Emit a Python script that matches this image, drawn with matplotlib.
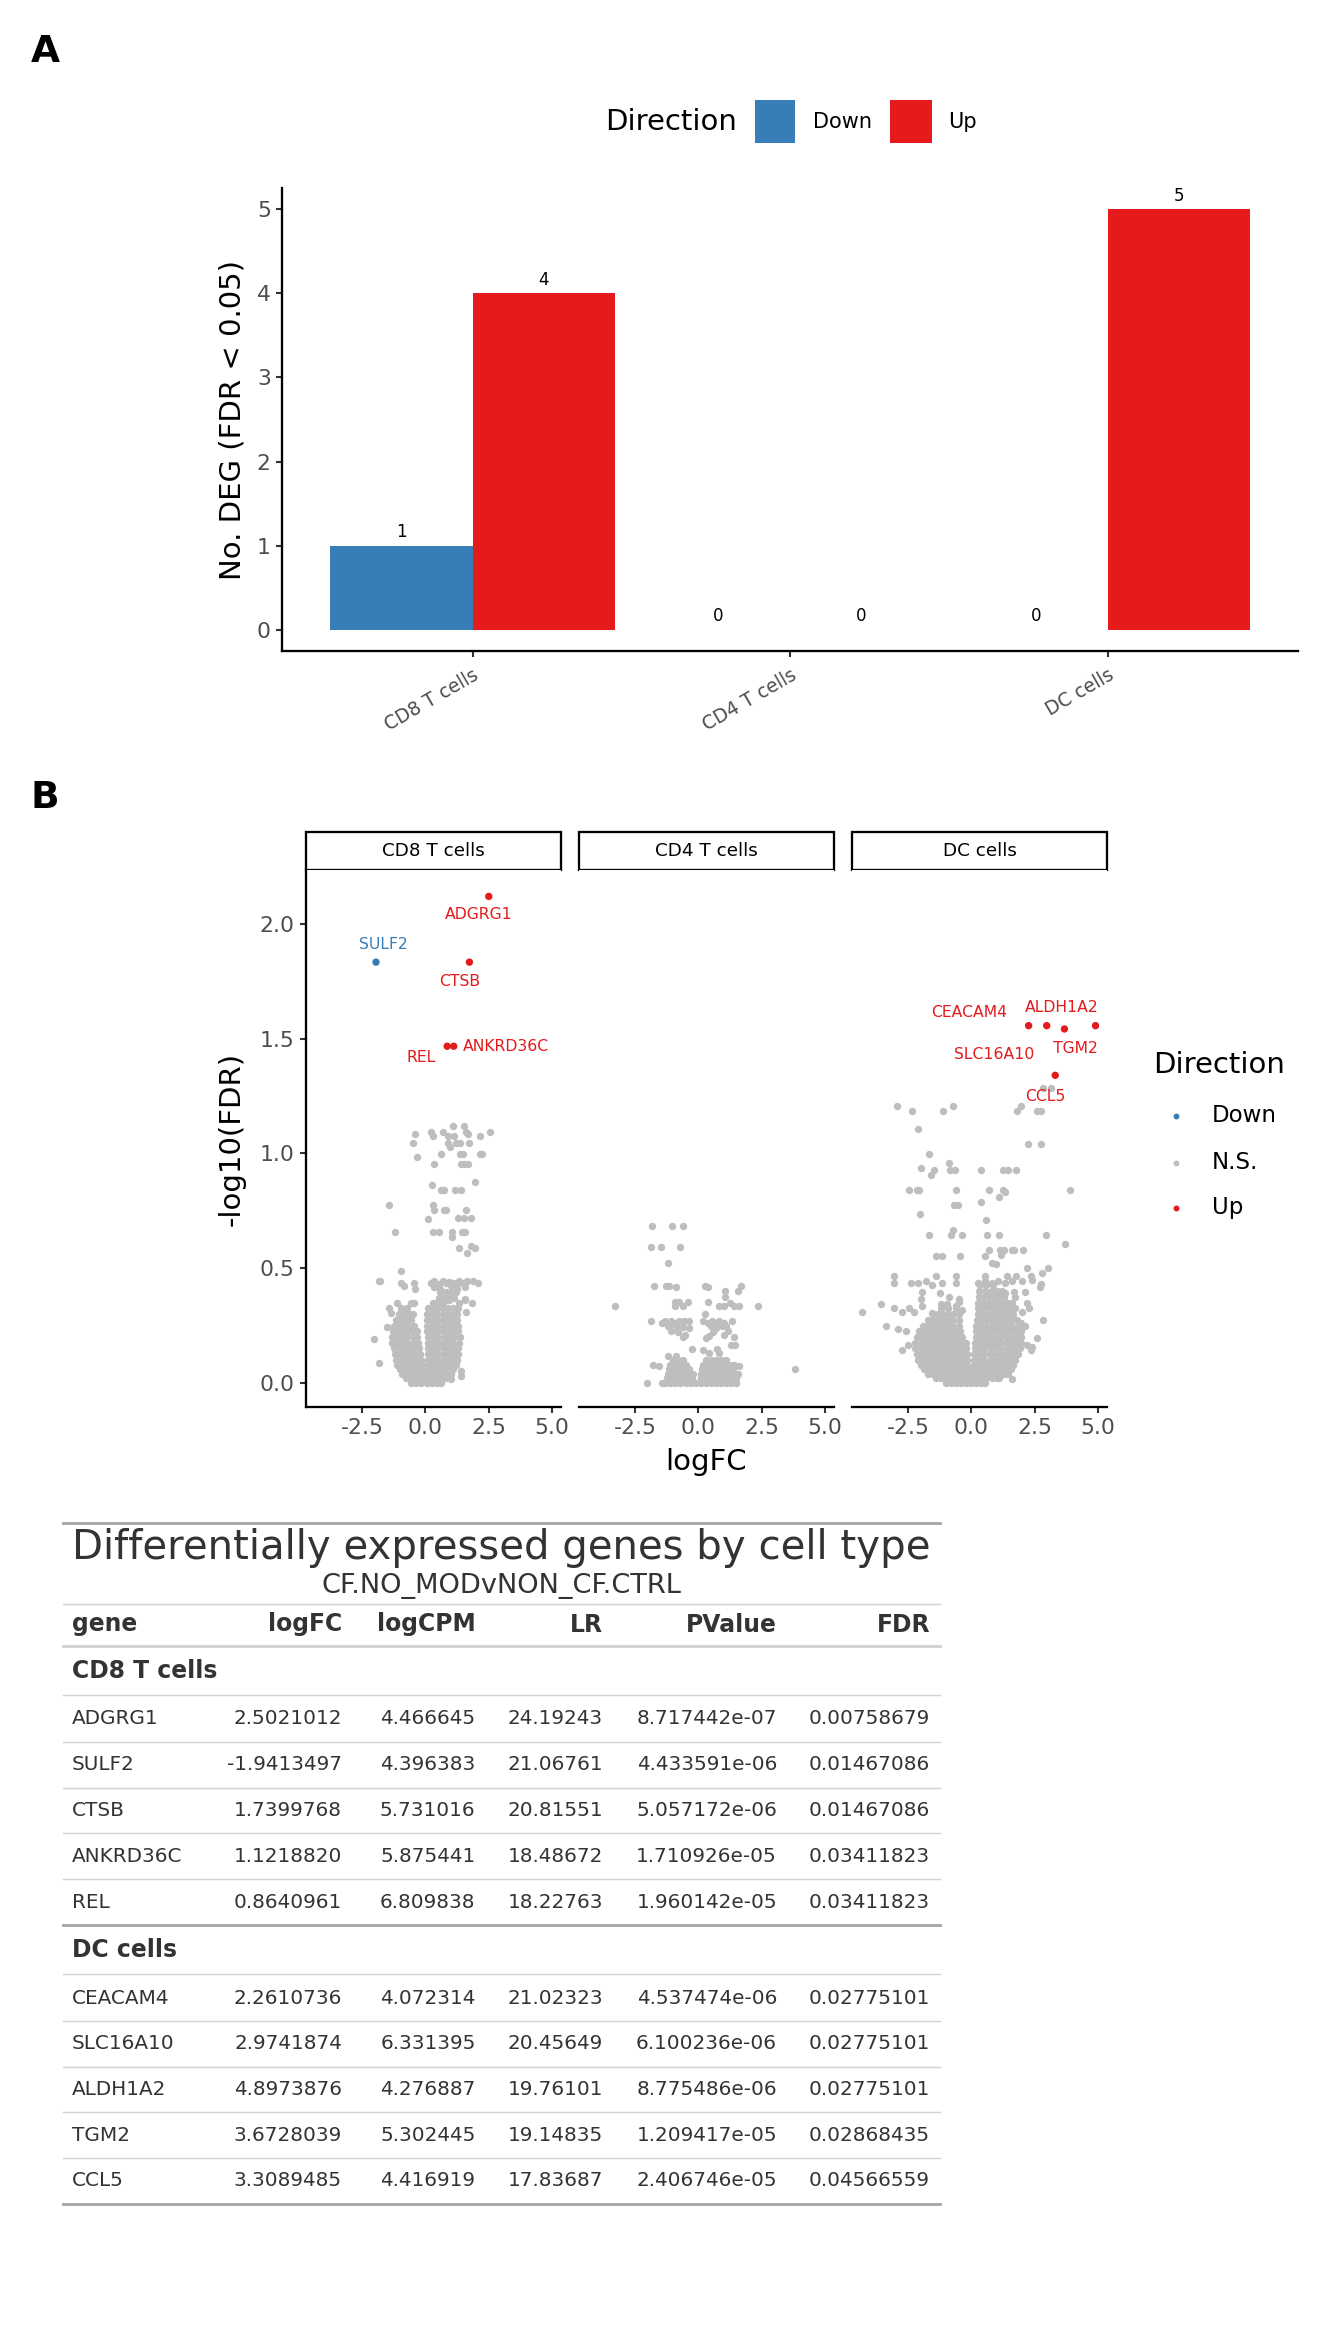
import numpy as np
import matplotlib
matplotlib.use("Agg")
import matplotlib.pyplot as plt
from matplotlib.patches import Rectangle

plt.rcParams['font.family'] = ['DejaVu Sans']

W, H = 1344, 2352
DPI = 150

col_down = '#377EB8'
col_up = '#E41A1C'
col_ns = '#BEBEBE'
col_tick = '#4D4D4D'
col_txt = '#333333'

# ---- panel A data
cell_types = ['CD8 T cells', 'CD4 T cells', 'DC cells']
n_down = [1, 0, 0]
n_up = [4, 0, 5]

# ---- DE table data
cd8_genes = ['ADGRG1', 'SULF2', 'CTSB', 'ANKRD36C', 'REL']
cd8_logfc = [2.5021012, -1.9413497, 1.7399768, 1.1218820, 0.8640961]
cd8_logcpm = [4.466645, 4.396383, 5.731016, 5.875441, 6.809838]
cd8_lr = [24.19243, 21.06761, 20.81551, 18.48672, 18.22763]
cd8_pval = [8.717442e-07, 4.433591e-06, 5.057172e-06, 1.710926e-05, 1.960142e-05]
cd8_fdr = [0.00758679, 0.01467086, 0.01467086, 0.03411823, 0.03411823]

dc_genes = ['CEACAM4', 'SLC16A10', 'ALDH1A2', 'TGM2', 'CCL5']
dc_logfc = [2.2610736, 2.9741874, 4.8973876, 3.6728039, 3.3089485]
dc_logcpm = [4.072314, 6.331395, 4.276887, 5.302445, 4.416919]
dc_lr = [21.02323, 20.45649, 19.76101, 19.14835, 17.83687]
dc_pval = [4.537474e-06, 6.100236e-06, 8.775486e-06, 1.209417e-05, 2.406746e-05]
dc_fdr = [0.02775101, 0.02775101, 0.02775101, 0.02868435, 0.04566559]

# ---- non-significant genes (logFC, -log10 FDR)
cd8_ns = [
    (1.10, 1.12), (1.52, 1.12),
    (-0.39, 1.083), (0.22, 1.095), (0.69, 1.095), (0.31, 1.076), (0.91, 1.076), (1.15, 1.076),
    (1.60, 1.095), (1.70, 1.083), (2.14, 1.076), (2.55, 1.095),
    (-0.47, 1.044), (0.91, 1.044), (1.20, 1.044), (1.37, 1.044), (1.74, 1.044), (0.97, 1.03),
    (-0.33, 0.983), (0.64, 0.998), (1.36, 0.998), (1.49, 0.998), (2.16, 0.998), (2.25, 0.998),
    (0.33, 0.953), (1.40, 0.953), (1.53, 0.953), (1.70, 0.953),
    (0.26, 0.863), (1.95, 0.874),
    (0.62, 0.841), (0.68, 0.841), (0.75, 0.841), (1.16, 0.841), (1.40, 0.841),
    (-1.42, 0.774), (0.31, 0.774), (0.33, 0.754), (0.75, 0.754), (0.81, 0.754), (1.60, 0.754),
    (0.12, 0.714), (1.28, 0.72), (1.52, 0.72), (1.79, 0.72),
    (-1.18, 0.659), (0.29, 0.659), (0.55, 0.659), (1.07, 0.659), (1.46, 0.659), (1.55, 0.659), (1.07, 0.634),
    (1.33, 0.59), (1.79, 0.597), (1.95, 0.586), (1.65, 0.564),
    (-0.97, 0.489), (-1.80, 0.444),
    (-1.82, 0.446), (-0.94, 0.435), (-0.82, 0.421), (-0.43, 0.435), (-0.39, 0.408), (0.22, 0.435),
    (0.33, 0.446), (0.42, 0.421), (0.68, 0.446), (0.81, 0.435), (1.01, 0.421), (1.10, 0.435),
    (1.33, 0.446), (1.46, 0.435), (1.66, 0.446), (1.88, 0.446), (2.08, 0.435),
    (0.55, 0.43), (0.95, 0.44), (1.20, 0.43), (1.55, 0.42), (0.35, 0.42), (0.60, 0.41), (1.25, 0.41),
    (-1.12, 0.347), (-0.56, 0.347), (-0.43, 0.347), (-0.50, 0.347), (0.29, 0.347), (0.42, 0.347),
    (0.55, 0.347), (0.70, 0.347), (0.94, 0.362), (1.33, 0.347), (1.57, 0.362), (1.83, 0.347),
    (-1.41, 0.326), (-1.35, 0.304), (-1.50, 0.243), (-2.03, 0.192), (-1.84, 0.086),
    (1.40, 0.05), (1.40, 0.03), (1.01, 0.017), (1.62, 0.308), (1.56, 0.365),
]
cd8_core = [
    (0.000, [-0.55, -0.35, -0.15, 0.05, 0.25, 0.45, 0.62]),
    (0.020, [-0.75, -0.55, -0.35, -0.15, 0.05, 0.25, 0.45, 0.65, 0.82]),
    (0.040, [-0.9, -0.7, -0.5, -0.3, -0.1, 0.1, 0.3, 0.5, 0.7, 0.9, 1.0]),
    (0.060, [-1.0, -0.8, -0.6, -0.4, -0.2, 0.0, 0.2, 0.4, 0.6, 0.8, 1.0, 1.1]),
    (0.080, [-1.1, -0.9, -0.7, -0.5, -0.3, -0.12, 0.1, 0.3, 0.5, 0.7, 0.9, 1.1, 1.2]),
    (0.100, [-1.15, -0.95, -0.75, -0.55, -0.35, -0.18, 0.12, 0.32, 0.52, 0.72, 0.92, 1.12, 1.25]),
    (0.125, [-1.2, -1.0, -0.8, -0.6, -0.4, -0.22, 0.1, 0.3, 0.5, 0.7, 0.9, 1.1, 1.28]),
    (0.150, [-1.25, -1.05, -0.85, -0.65, -0.45, -0.25, 0.12, 0.32, 0.52, 0.72, 0.92, 1.12, 1.3]),
    (0.175, [-1.3, -1.1, -0.9, -0.7, -0.5, -0.3, 0.1, 0.3, 0.5, 0.7, 0.9, 1.1, 1.32]),
    (0.200, [-1.3, -1.1, -0.9, -0.7, -0.5, -0.32, 0.12, 0.32, 0.52, 0.72, 0.92, 1.12, 1.35]),
    (0.225, [-1.28, -1.08, -0.88, -0.68, -0.48, -0.33, 0.08, 0.28, 0.48, 0.68, 0.88, 1.08, 1.3]),
    (0.250, [-1.25, -1.05, -0.85, -0.65, -0.45, 0.08, 0.28, 0.48, 0.68, 0.88, 1.08, 1.28]),
    (0.275, [-1.15, -0.95, -0.75, -0.55, 0.05, 0.25, 0.45, 0.65, 0.85, 1.05, 1.25]),
    (0.300, [-1.05, -0.85, -0.65, -0.5, 0.08, 0.28, 0.48, 0.68, 0.88, 1.08, 1.25]),
    (0.325, [-0.95, -0.7, 0.1, 0.3, 0.5, 0.7, 0.9, 1.1, 1.3]),
    (0.370, [0.55, 0.75, 0.95, 1.15]),
    (0.395, [0.6, 0.8, 1.0, 1.2]),
]

cd4_ns = [
    (-1.82, 0.684), (-1.03, 0.684), (-0.61, 0.684),
    (-1.86, 0.594), (-1.48, 0.594), (-0.72, 0.594),
    (-1.19, 0.524),
    (-1.75, 0.424), (-1.29, 0.424), (-1.14, 0.424), (-0.87, 0.42), (0.27, 0.424), (0.40, 0.42),
    (1.06, 0.402), (1.58, 0.402), (1.67, 0.424), (1.06, 0.373),
    (-3.29, 0.333), (2.37, 0.333),
    (-0.90, 0.354), (-0.75, 0.354), (-0.41, 0.354), (-0.90, 0.333), (-0.61, 0.333), (0.38, 0.354),
    (0.80, 0.333), (1.03, 0.333), (1.24, 0.349), (1.41, 0.335), (1.61, 0.333),
    (0.27, 0.301),
    (-1.88, 0.27), (-1.42, 0.263), (-1.32, 0.27), (-1.09, 0.27), (-0.93, 0.263), (-0.75, 0.27),
    (-0.56, 0.27), (-0.38, 0.27), (-0.85, 0.243), (-0.61, 0.245), (-0.35, 0.238), (-1.06, 0.224),
    (-0.61, 0.202), (-0.51, 0.209), (0.20, 0.27), (0.38, 0.263), (0.56, 0.27), (0.82, 0.27),
    (1.03, 0.263), (1.32, 0.27), (0.69, 0.238), (0.95, 0.247), (1.19, 0.224), (1.02, 0.209),
    (1.42, 0.202), (0.43, 0.205), (0.30, 0.195),
    (-1.2, 0.25), (-0.95, 0.255), (0.5, 0.25), (0.75, 0.255), (1.1, 0.25), (0.6, 0.22), (-0.8, 0.22),
    (1.28, 0.163), (1.45, 0.163),
    (-0.25, 0.148), (0.20, 0.144), (0.43, 0.129), (0.72, 0.148), (0.82, 0.129),
    (-1.20, 0.118), (-0.87, 0.118),
    (-1.79, 0.078), (-1.53, 0.075), (1.35, 0.08), (1.61, 0.075),
    (3.83, 0.06),
    (-2.01, 0.0), (-1.42, 0.0), (1.50, 0.0),
]
cd4_core = [
    (0.000, [-1.3, -1.1, -0.9, -0.7, -0.5, -0.3, -0.1, 0.1, 0.3, 0.5, 0.7, 0.9, 1.1, 1.3, 1.5]),
    (0.020, [-1.25, -1.05, -0.85, -0.65, -0.45, -0.25, 0.1, 0.3, 0.5, 0.7, 0.9, 1.1, 1.3, 1.5]),
    (0.040, [-1.2, -1.0, -0.8, -0.6, -0.4, -0.2, 0.1, 0.3, 0.5, 0.7, 0.9, 1.1, 1.3, 1.55]),
    (0.060, [-1.15, -0.95, -0.75, -0.55, -0.35, 0.15, 0.35, 0.55, 0.75, 0.95, 1.15, 1.35]),
    (0.080, [-1.1, -0.9, -0.7, -0.5, 0.2, 0.4, 0.6, 0.8, 1.0, 1.2, 1.4]),
    (0.100, [-1.0, -0.8, -0.6, 0.3, 0.5, 0.7, 0.9, 1.1]),
]

dc_ns = [
    (2.84, 1.284), (3.15, 1.284),
    (-2.93, 1.207), (-0.71, 1.207), (1.97, 1.207),
    (-2.35, 1.185), (-1.13, 1.185), (1.80, 1.185), (2.61, 1.185), (2.75, 1.185),
    (-2.09, 1.105),
    (2.22, 1.043), (2.74, 1.043),
    (-1.65, 0.999),
    (-0.86, 0.96),
    (-1.97, 0.935), (-1.47, 0.928), (-1.59, 0.908), (-0.83, 0.928), (-0.63, 0.928), (0.40, 0.928),
    (1.27, 0.928), (1.44, 0.928), (1.75, 0.928),
    (-2.45, 0.841), (-2.13, 0.841), (-2.06, 0.841), (-0.61, 0.841), (0.70, 0.841), (1.24, 0.841),
    (1.34, 0.83), (3.90, 0.841), (1.08, 0.812),
    (0.40, 0.789), (-0.69, 0.774), (-0.52, 0.774),
    (-2.03, 0.738),
    (0.57, 0.709),
    (-0.73, 0.667), (-1.67, 0.645), (-0.78, 0.645), (-0.37, 0.645), (0.62, 0.645), (1.08, 0.645), (2.96, 0.645),
    (3.69, 0.604),
    (-1.38, 0.553), (-1.17, 0.553), (-0.46, 0.553), (0.56, 0.553), (0.71, 0.577), (1.13, 0.577),
    (1.31, 0.577), (1.60, 0.577), (1.68, 0.577), (2.05, 0.577), (1.18, 0.557),
    (0.82, 0.524), (0.99, 0.517),
    (2.20, 0.50), (3.04, 0.50), (2.80, 0.478),
    (-3.04, 0.466), (-1.38, 0.466), (-0.60, 0.466), (0.53, 0.466), (1.40, 0.466), (1.78, 0.466), (2.35, 0.466),
    (-3.04, 0.437), (-2.38, 0.437), (-2.09, 0.437), (-1.80, 0.442), (-1.56, 0.427), (-1.14, 0.437),
    (-0.60, 0.437), (0.27, 0.437), (0.56, 0.442), (0.82, 0.437), (1.05, 0.442), (1.34, 0.437),
    (1.60, 0.442), (1.99, 0.442), (2.38, 0.449), (2.75, 0.433),
    (-1.93, 0.398), (-1.25, 0.391), (-0.88, 0.376), (-1.99, 0.365), (-0.49, 0.365), (0.62, 0.398),
    (0.95, 0.376), (1.34, 0.391), (1.67, 0.398), (1.73, 0.376), (2.13, 0.398), (2.71, 0.42),
    (-3.56, 0.343), (-3.04, 0.325), (-2.71, 0.311), (-2.45, 0.325), (-2.25, 0.311), (-1.93, 0.333),
    (-1.21, 0.344), (-0.95, 0.344), (-0.62, 0.333), (-0.49, 0.354), (-0.38, 0.318), (-1.54, 0.304),
    (0.29, 0.333), (1.08, 0.347), (1.60, 0.347), (1.73, 0.325), (2.19, 0.347), (2.28, 0.325),
    (1.34, 0.304), (1.99, 0.307), (-4.31, 0.307),
    (-3.37, 0.248), (-2.87, 0.234), (-2.58, 0.224), (2.84, 0.272), (2.13, 0.246), (1.97, 0.26),
    (2.58, 0.195), (-2.71, 0.144), (-2.48, 0.166), (2.19, 0.166), (2.36, 0.144), (2.38, 0.156), (1.73, 0.18),
    (1.60, 0.017),
]
dc_core = [
    (0.000, [-1.0, -0.8, -0.6, -0.4, -0.2, 0.0, 0.2, 0.4, 0.55]),
    (0.020, [-1.4, -1.2, -1.0, -0.8, -0.6, -0.4, -0.2, 0.0, 0.2, 0.4, 0.6, 0.8, 1.0, 1.1]),
    (0.040, [-1.7, -1.5, -1.3, -1.1, -0.9, -0.7, -0.5, -0.3, -0.1, 0.1, 0.3, 0.5, 0.7, 0.9, 1.1, 1.3, 1.45]),
    (0.060, [-1.85, -1.65, -1.45, -1.25, -1.05, -0.85, -0.65, -0.45, -0.25, -0.08, 0.12, 0.32, 0.52,
             0.72, 0.92, 1.12, 1.32, 1.55]),
    (0.080, [-2.0, -1.8, -1.6, -1.4, -1.2, -1.0, -0.8, -0.6, -0.4, -0.15, 0.1, 0.3, 0.5, 0.7, 0.9,
             1.1, 1.3, 1.5, 1.65]),
    (0.100, [-2.1, -1.9, -1.7, -1.5, -1.3, -1.1, -0.9, -0.7, -0.5, -0.3, -0.15, 0.12, 0.32, 0.52,
             0.72, 0.92, 1.12, 1.32, 1.52, 1.72]),
    (0.125, [-2.15, -1.95, -1.75, -1.55, -1.35, -1.15, -0.95, -0.75, -0.55, -0.35, -0.18, 0.12, 0.32,
             0.52, 0.72, 0.92, 1.12, 1.32, 1.52, 1.72, 1.85]),
    (0.150, [-2.2, -2.0, -1.8, -1.6, -1.4, -1.2, -1.0, -0.8, -0.6, -0.4, -0.2, 0.15, 0.35, 0.55, 0.75,
             0.95, 1.15, 1.35, 1.55, 1.75, 1.92]),
    (0.175, [-2.2, -2.0, -1.8, -1.6, -1.4, -1.2, -1.0, -0.8, -0.6, -0.4, -0.22, 0.15, 0.35, 0.55, 0.75,
             0.95, 1.15, 1.35, 1.55, 1.75, 1.95]),
    (0.200, [-2.15, -1.95, -1.75, -1.55, -1.35, -1.15, -0.95, -0.75, -0.55, -0.38, 0.18, 0.38, 0.58,
             0.78, 0.98, 1.18, 1.38, 1.58, 1.78, 1.98]),
    (0.225, [-2.05, -1.85, -1.65, -1.45, -1.25, -1.05, -0.85, -0.65, -0.45, 0.18, 0.38, 0.58, 0.78,
             0.98, 1.18, 1.38, 1.58, 1.78, 1.95]),
    (0.250, [-1.9, -1.7, -1.5, -1.3, -1.1, -0.9, -0.7, -0.5, 0.2, 0.4, 0.6, 0.8, 1.0, 1.2, 1.4, 1.6, 1.85]),
    (0.275, [-1.7, -1.5, -1.3, -1.1, -0.9, -0.7, -0.5, 0.22, 0.42, 0.62, 0.82, 1.02, 1.22, 1.42, 1.62, 1.8]),
    (0.300, [-1.5, -1.3, -1.1, -0.9, -0.7, -0.5, 0.25, 0.45, 0.65, 0.85, 1.05, 1.25, 1.45, 1.65]),
    (0.325, [-1.2, -0.9, -0.6, 0.25, 0.45, 0.65, 0.85, 1.05, 1.25, 1.45, 1.6]),
    (0.350, [0.28, 0.48, 0.68, 0.88, 1.08, 1.28, 1.45]),
    (0.375, [0.3, 0.5, 0.7, 0.9, 1.1, 1.3]),
    (0.400, [0.32, 0.55, 0.8, 1.0, 1.2]),
    (0.425, [0.35, 0.6, 0.85]),
]

# label placement (data coords) of the repelled gene names
cd8_label_pos = {'ADGRG1': (2.12, 2.04), 'SULF2': (-1.65, 1.91), 'CTSB': (1.35, 1.75),
                 'ANKRD36C': (3.18, 1.464), 'REL': (-0.18, 1.418)}
dc_label_pos = {'CEACAM4': (-0.08, 1.614), 'ALDH1A2': (3.57, 1.634), 'SLC16A10': (0.92, 1.431),
                'TGM2': (4.10, 1.457), 'CCL5': (2.92, 1.248)}


def px_axes(fig, x0, y0, x1, y1):
    return fig.add_axes([x0 / W, 1 - y1 / H, (x1 - x0) / W, (y1 - y0) / H])


def style_ax(ax, left=True):
    for s in ['top', 'right']:
        ax.spines[s].set_visible(False)
    ax.spines['left'].set_visible(left)
    for s in ['left', 'bottom']:
        ax.spines[s].set_linewidth(1.1)
        ax.spines[s].set_color('black')
    ax.tick_params(length=2.9, width=1.0, color='#333333', labelcolor=col_tick, labelsize=10.5, pad=2.5)


fig = plt.figure(figsize=(W / DPI, H / DPI), dpi=DPI)

# ---------------- A: bar chart
axA = px_axes(fig, 282, 188, 1298, 651)
xpos = np.arange(1, len(cell_types) + 1)
axA.bar(xpos - 0.225, n_down, 0.45, color=col_down)
axA.bar(xpos + 0.225, n_up, 0.45, color=col_up)
for xi, d, u in zip(xpos, n_down, n_up):
    axA.annotate(str(d), (xi - 0.225, d), xytext=(0, 6.5), textcoords='offset points',
                 ha='center', va='center', fontsize=8)
    axA.annotate(str(u), (xi + 0.225, u), xytext=(0, 6.5), textcoords='offset points',
                 ha='center', va='center', fontsize=8)
axA.set_xlim(0.4, 3.6)
axA.set_ylim(-0.25, 5.25)
axA.set_yticks(range(0, 6))
axA.set_xticks(xpos)
style_ax(axA)
axA.set_xticklabels(cell_types, rotation=30, ha='right', rotation_mode='anchor', fontsize=9)
axA.tick_params(axis='x', pad=4)

# ---------------- B: volcano panels
panel_x = [(306, 561), (579, 834), (852, 1107)]
ns_sets = [(cd8_ns, cd8_core), (cd4_ns, cd4_core), (dc_ns, dc_core)]
sig_sets = [(cd8_genes, cd8_logfc, cd8_fdr, cd8_label_pos), None, (dc_genes, dc_logfc, dc_fdr, dc_label_pos)]

over = fig.add_axes([0, 0, 1, 1])
over.set_xlim(0, W)
over.set_ylim(H, 0)
over.axis('off')

for i, ((x0, x1), (ns, core), sig) in enumerate(zip(panel_x, ns_sets, sig_sets)):
    ax = px_axes(fig, x0, 870, x1, 1407)
    nx = [p[0] for p in ns] + [x for yv, xs in core for x in xs]
    ny = [p[1] for p in ns] + [yv for yv, xs in core for x in xs]
    ax.scatter(nx, ny, s=12.5, color=col_ns, linewidths=0, zorder=2)
    if sig is not None:
        genes, lfc, fdr, lpos = sig
        lv = -np.log10(fdr)
        cols = [col_up if v > 0 else col_down for v in lfc]
        ax.scatter(lfc, lv, s=12.5, c=cols, linewidths=0, zorder=3)
        for g, c in zip(genes, cols):
            tx, ty = lpos[g]
            ax.text(tx, ty, g, color=c, fontsize=7.5, ha='center', va='center', clip_on=False)
    ax.set_xlim(-4.7, 5.35)
    ax.set_ylim(-0.105, 2.235)
    ax.set_xticks([-2.5, 0, 2.5, 5.0])
    ax.set_xticklabels(['-2.5', '0.0', '2.5', '5.0'])
    ax.set_yticks([0, 0.5, 1.0, 1.5, 2.0])
    ax.set_yticklabels(['0.0', '0.5', '1.0', '1.5', '2.0'])
    style_ax(ax, left=(i == 0))
    if i > 0:
        ax.tick_params(axis='y', left=False, labelleft=False)
    over.add_patch(Rectangle((x0, 832), x1 - x0, 38, facecolor='white', edgecolor='black', lw=1.1))
    over.text((x0 + x1) / 2, 851, cell_types[i], ha='center', va='center', fontsize=8.8, color='black')

# panel letters and axis titles
over.text(45, 52, 'A', fontsize=18, fontweight='bold', ha='center', va='center')
over.text(45, 798, 'B', fontsize=18, fontweight='bold', ha='center', va='center')
over.text(232, 420, 'No. DEG (FDR < 0.05)', rotation=90, fontsize=14, ha='center', va='center')
over.text(232, 1139, '-log10(FDR)', rotation=90, fontsize=14, ha='center', va='center')
over.text(706, 1462, 'logFC', fontsize=14, ha='center', va='center')

# legend A (top, horizontal)
over.text(605, 121.5, 'Direction', fontsize=14, ha='left', va='center')
over.add_patch(Rectangle((754.5, 100), 40.5, 42.5, color=col_down, lw=0))
over.text(813, 121.5, 'Down', fontsize=10, ha='left', va='center')
over.add_patch(Rectangle((889.5, 100), 42, 42.5, color=col_up, lw=0))
over.text(948, 121.5, 'Up', fontsize=10, ha='left', va='center')

# legend B (right)
over.text(1153, 1065, 'Direction', fontsize=14, ha='left', va='center')
for lab, c, yy in [('Down', col_down, 1116), ('N.S.', col_ns, 1162.5), ('Up', col_up, 1207.5)]:
    over.scatter([1176], [yy], s=8, color=c, linewidths=0)
    over.text(1212, yy, lab, fontsize=11, ha='left', va='center')

# ---------------- C: table
tx0, tx1 = 63, 940
over.plot([tx0, tx1], [1522.5, 1522.5], color='#A8A8A8', lw=1.4)
over.text((tx0 + tx1) / 2, 1548, 'Differentially expressed genes by cell type', fontsize=19.3,
          ha='center', va='center', color=col_txt)
over.text((tx0 + tx1) / 2, 1586, 'CF.NO_MODvNON_CF.CTRL', fontsize=13.1, ha='center', va='center',
          color=col_txt)
over.plot([tx0, tx1], [1603.5, 1603.5], color='#D3D3D3', lw=0.7)

col_right = [342, 475.5, 603, 777, 930]
headers = ['logFC', 'logCPM', 'LR', 'PValue', 'FDR']
over.text(72, 1624.5, 'gene', fontsize=11.3, fontweight='bold', ha='left', va='center', color=col_txt)
for hx, hname in zip(col_right, headers):
    over.text(hx, 1624.5, hname, fontsize=11.3, fontweight='bold', ha='right', va='center', color=col_txt)
over.plot([tx0, tx1], [1645.5, 1645.5], color='#D3D3D3', lw=1.4)

groups = [('CD8 T cells', 1671, cd8_genes, cd8_logfc, cd8_logcpm, cd8_lr, cd8_pval, cd8_fdr),
          ('DC cells', 1950, dc_genes, dc_logfc, dc_logcpm, dc_lr, dc_pval, dc_fdr)]
row_h = 45.75
for gname, gy, genes, lfc, lcpm, lr, pv, fdr in groups:
    over.text(72, gy, gname, fontsize=11.3, fontweight='bold', ha='left', va='center', color=col_txt)
    over.plot([tx0, tx1], [gy + 24, gy + 24], color='#D3D3D3', lw=0.7)
    for k in range(len(genes)):
        ry = gy + 48 + k * row_h
        vals = ['%.7f' % lfc[k], '%.6f' % lcpm[k], '%.5f' % lr[k], '%.6e' % pv[k], '%.8f' % fdr[k]]
        over.text(72, ry, genes[k], fontsize=9.6, ha='left', va='center', color=col_txt)
        for hx, v in zip(col_right, vals):
            over.text(hx, ry, v, fontsize=9.6, ha='right', va='center', color=col_txt)
        if k < len(genes) - 1:
            over.plot([tx0, tx1], [ry + row_h / 2, ry + row_h / 2], color='#D3D3D3', lw=0.7)
    last = gy + 48 + (len(genes) - 1) * row_h + 22.5
    over.plot([tx0, tx1], [last, last], color='#A8A8A8', lw=1.4)

fig.savefig('out.png', dpi=DPI, facecolor='white')
